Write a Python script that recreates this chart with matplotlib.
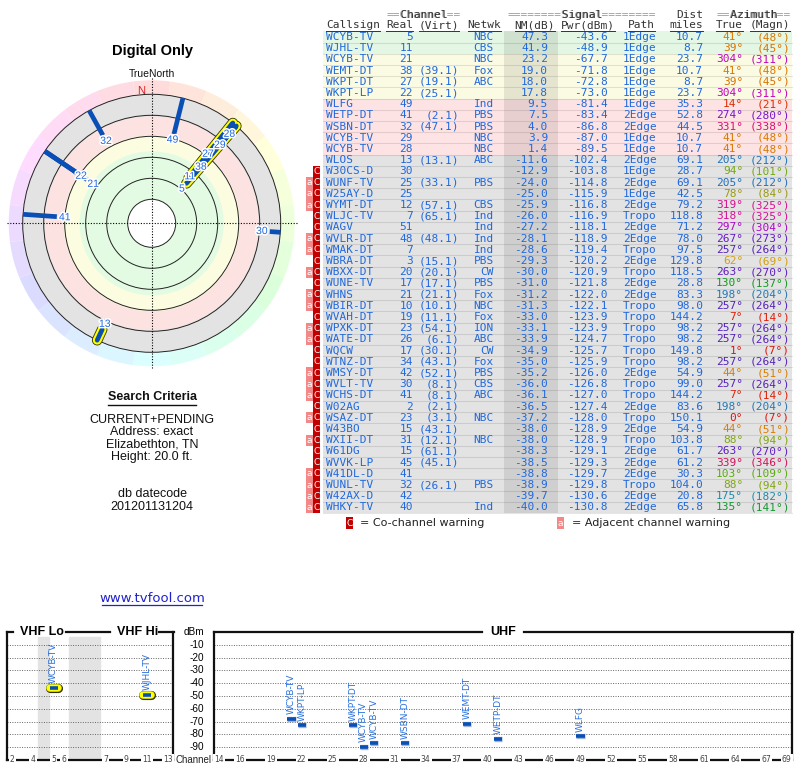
import numpy as np
import matplotlib
matplotlib.use('Agg')
import matplotlib.pyplot as plt
from matplotlib.patches import Rectangle, Wedge, Circle
import matplotlib.patheffects as pe
from matplotlib.colors import to_rgb
import colorsys

# ---------------- data ----------------
callsigns = ['WCYB-TV', 'WJHL-TV', 'WCYB-TV', 'WEMT-DT', 'WKPT-DT', 'WKPT-LP', 'WLFG', 'WETP-DT',
             'WSBN-DT', 'WCYB-TV', 'WCYB-TV', 'WLOS', 'W30CS-D', 'WUNF-TV', 'W25AY-D', 'WYMT-DT',
             'WLJC-TV', 'WAGV', 'WVLR-DT', 'WMAK-DT', 'WBRA-DT', 'WBXX-DT', 'WUNE-TV', 'WHNS',
             'WBIR-DT', 'WVAH-DT', 'WPXK-DT', 'WATE-DT', 'WQCW', 'WTNZ-DT', 'WMSY-DT', 'WVLT-TV',
             'WCHS-DT', 'W02AG', 'WSAZ-DT', 'W43BO', 'WXII-DT', 'W61DG', 'WVVK-LP', 'W41DL-D',
             'WUNL-TV', 'W42AX-D', 'WHKY-TV']
real_ch = [5, 11, 21, 38, 27, 22, 49, 41, 32, 29, 28, 13, 30, 25, 25, 12, 7, 51, 48, 7, 3, 20, 17, 21,
           10, 19, 23, 26, 17, 34, 42, 30, 41, 2, 23, 15, 31, 15, 45, 41, 32, 42, 40]
virt_ch = ['', '', '', '39.1', '19.1', '25.1', '', '2.1', '47.1', '', '', '13.1', '', '33.1', '',
           '57.1', '65.1', '', '48.1', '', '15.1', '20.1', '17.1', '21.1', '10.1', '11.1', '54.1',
           '6.1', '30.1', '43.1', '52.1', '8.1', '8.1', '2.1', '3.1', '43.1', '12.1', '61.1', '45.1',
           '', '26.1', '', '']
network = ['NBC', 'CBS', 'NBC', 'Fox', 'ABC', '', 'Ind', 'PBS', 'PBS', 'NBC', 'NBC', 'ABC', '', 'PBS',
           '', 'CBS', 'Ind', 'Ind', 'Ind', 'Ind', 'PBS', 'CW', 'PBS', 'Fox', 'NBC', 'Fox', 'ION', 'ABC',
           'CW', 'Fox', 'PBS', 'CBS', 'ABC', '', 'NBC', '', 'NBC', '', '', '', 'PBS', '', 'Ind']
nm_db = [47.3, 41.9, 23.2, 19.0, 18.0, 17.8, 9.5, 7.5, 4.0, 3.9, 1.4, -11.6, -12.9, -24.0, -25.0,
         -25.9, -26.0, -27.2, -28.1, -28.6, -29.3, -30.0, -31.0, -31.2, -31.3, -33.0, -33.1, -33.9,
         -34.9, -35.0, -35.2, -36.0, -36.1, -36.5, -37.2, -38.0, -38.0, -38.3, -38.5, -38.8, -38.9,
         -39.7, -40.0]
pwr_dbm = [-43.6, -48.9, -67.7, -71.8, -72.8, -73.0, -81.4, -83.4, -86.8, -87.0, -89.5, -102.4,
           -103.8, -114.8, -115.9, -116.8, -116.9, -118.1, -118.9, -119.4, -120.2, -120.9, -121.8,
           -122.0, -122.1, -123.9, -123.9, -124.7, -125.7, -125.9, -126.0, -126.8, -127.0, -127.4,
           -128.0, -128.9, -128.9, -129.1, -129.3, -129.7, -129.8, -130.6, -130.8]
path = ['1Edge', '1Edge', '1Edge', '1Edge', '1Edge', '1Edge', '1Edge', '2Edge', '2Edge', '1Edge',
        '1Edge', '2Edge', '1Edge', '2Edge', '1Edge', '2Edge', 'Tropo', '2Edge', '2Edge', 'Tropo',
        '2Edge', 'Tropo', '2Edge', '2Edge', 'Tropo', 'Tropo', 'Tropo', 'Tropo', 'Tropo', 'Tropo',
        '2Edge', 'Tropo', 'Tropo', '2Edge', 'Tropo', '2Edge', 'Tropo', '2Edge', '2Edge', '2Edge',
        'Tropo', '2Edge', '2Edge']
dist_mi = [10.7, 8.7, 23.7, 10.7, 8.7, 23.7, 35.3, 52.8, 44.5, 10.7, 10.7, 69.1, 28.7, 69.1, 42.5,
           79.2, 118.8, 71.2, 78.0, 97.5, 129.8, 118.5, 28.8, 83.3, 98.0, 144.2, 98.2, 98.2, 149.8,
           98.2, 54.9, 99.0, 144.2, 83.6, 150.1, 54.9, 103.8, 61.7, 61.2, 30.3, 104.0, 20.8, 65.8]
az_true = [41, 39, 304, 41, 39, 304, 14, 274, 331, 41, 41, 205, 94, 205, 78, 319, 318, 297, 267, 257,
           62, 263, 130, 198, 257, 7, 257, 257, 1, 257, 44, 257, 7, 198, 0, 44, 88, 263, 339, 103,
           88, 175, 135]
az_magn = [48, 45, 311, 48, 45, 311, 21, 280, 338, 48, 48, 212, 101, 212, 84, 325, 325, 304, 273,
           264, 69, 270, 137, 204, 264, 14, 264, 264, 7, 264, 51, 264, 14, 204, 7, 51, 94, 270, 346,
           109, 94, 182, 141]
warnings = ['', '', '', '', '', '', '', '', '', '', '', '', 'C', 'aC', 'aC', 'aC', 'C', 'C', 'aC', 'aC',
            'C', 'aC', 'C', 'aC', 'aC', 'C', 'aC', 'aC', 'C', 'C', 'aC', 'aC', 'aC', 'C', 'aC', 'C',
            'aC', 'C', 'C', 'aC', 'aC', 'aC', 'aC']

criteria_lines = ['CURRENT+PENDING', 'Address: exact', 'Elizabethton, TN', 'Height: 20.0 ft.']
datecode = '201201131204'
dbm_ticks = [-10, -20, -30, -40, -50, -60, -70, -80, -90]
vhf_tick_ch = [2, 4, 5, 6, 7, 9, 11, 13]
uhf_tick_ch = [14, 16, 19, 22, 25, 28, 31, 34, 37, 40, 43, 46, 49, 52, 55, 58, 61, 64, 67, 69]

# ---------------- helpers ----------------
W, H = 800, 768
fig = plt.figure(figsize=(8, 7.68), dpi=100)


def px_axes(x0, y0, x1, y1):
    return fig.add_axes([x0 / W, 1 - y1 / H, (x1 - x0) / W, (y1 - y0) / H])


canvas = px_axes(0, 0, W, H)
canvas.set_xlim(0, W)
canvas.set_ylim(H, 0)
canvas.axis('off')

MONO = 'DejaVu Sans Mono'
SANS = 'Liberation Sans'
BLUE_TXT = '#2068dc'
BAR_BLUE = '#0a4fb5'

az_nodes = [0, 20, 41, 62, 78, 92, 105, 130, 150, 175, 200, 215, 257, 270, 285, 300, 320, 340, 360]
az_cols = ['#dd1111', '#dd3a00', '#da7800', '#d4a010', '#9a9a10', '#78aa10', '#55aa10', '#119a22',
           '#1a9060', '#2288aa', '#2277b5', '#2266c8', '#5522bb', '#6a18cc', '#8a10cc', '#bb00cc',
           '#dd1090', '#d41058', '#dd1111']
az_rgb = np.array([to_rgb(c) for c in az_cols])


def az_color(a):
    return tuple(np.interp(a, az_nodes, az_rgb[:, k]) for k in range(3))


def zone_color(nm):
    if nm >= 30:
        return '#e4f7e4'
    if nm >= 12:
        return '#fbfbe3'
    if nm >= 0:
        return '#fde3e3'
    return '#e3e3e3'


# ---------------- table ----------------
ROW0, RH = 37.0, 11.2
CW = 0.602 * 8 * 100 / 72
TX0, TX1 = 323, 792
n = len(callsigns)
tfs = 8

for i in range(n):
    yc = ROW0 + i * RH
    canvas.add_patch(Rectangle((TX0, yc - RH / 2), TX1 - TX0, RH, fc=zone_color(nm_db[i]), ec='none', zorder=1))
    canvas.plot([TX0, TX1], [yc + RH / 2, yc + RH / 2], color='black', alpha=0.10, lw=0.8, zorder=2)
canvas.add_patch(Rectangle((504, ROW0 - RH / 2), 54, n * RH, fc='black', alpha=0.085, ec='none', zorder=1.5))


def ttext(x, y, s, ha='left', color=BLUE_TXT, **kw):
    canvas.text(x, y, s, ha=ha, va='center', family=MONO, fontsize=tfs, color=color, zorder=5, **kw)


for i in range(n):
    yc = ROW0 + i * RH
    ttext(326, yc, callsigns[i])
    ttext(413, yc, str(real_ch[i]), ha='right')
    if virt_ch[i]:
        ttext(459, yc, '(' + virt_ch[i] + ')', ha='right')
    if network[i]:
        ttext(494, yc, network[i], ha='right')
    ttext(548, yc, f'{nm_db[i]:.1f}', ha='right')
    ttext(608, yc, f'{pwr_dbm[i]:.1f}', ha='right')
    ttext(623, yc, path[i])
    ttext(703, yc, f'{dist_mi[i]:.1f}', ha='right')
    col = az_color(az_true[i])
    ttext(743, yc, f'{az_true[i]}°', ha='right', color=col)
    ttext(790, yc, f'({az_magn[i]}°)', ha='right', color=col)
    if 'C' in warnings[i]:
        canvas.add_patch(Rectangle((313, yc - RH / 2), 7, RH, fc='#c20000', ec='none', zorder=3))
        canvas.text(316.5, yc, 'C', ha='center', va='center', color='white', fontsize=6.5,
                    family='DejaVu Sans', zorder=4)
    if 'a' in warnings[i]:
        canvas.add_patch(Rectangle((306, yc - RH / 2), 7, RH, fc='#f28888', ec='none', zorder=3))
        canvas.text(309.5, yc, 'a', ha='center', va='center', color='white', fontsize=6.5,
                    family='DejaVu Sans', zorder=4)

HCOL = '#333333'
GCOL = '#9a9a9a'
h1, h2 = 14.5, 25.5


def header1(xl, s):
    ttext(xl, h1, s, color=GCOL)
    word = ''.join(c if c != '=' else ' ' for c in s)
    ttext(xl, h1, word, color=HCOL)


header1(387, '==Channel==')
header1(508, '========Signal========')
ttext(703, h1, 'Dist', ha='right', color=HCOL)
header1(717, '==Azimuth==')

hdr2 = [('Callsign', 326, 'left'), ('Real', 413, 'right'), ('(Virt)', 459, 'right'),
        ('Netwk', 484.5, 'center'), ('NM(dB)', 555, 'right'), ('Pwr(dBm)', 615, 'right'),
        ('Path', 655, 'right'), ('miles', 703, 'right'), ('True', 743, 'right'), ('(Magn)', 790, 'right')]
for s, x, ha in hdr2:
    ttext(x, h2, s, ha=ha, color=HCOL)
    w = len(s) * CW
    xl = x if ha == 'left' else (x - w if ha == 'right' else x - w / 2)
    canvas.plot([xl, xl + w], [h2 + 5, h2 + 5], color=HCOL, lw=0.7, zorder=5)

ly = 523
canvas.add_patch(Rectangle((346, ly - 6), 7, 12, fc='#c20000', ec='none'))
canvas.text(349.5, ly, 'C', ha='center', va='center', color='white', fontsize=6.5, family='DejaVu Sans')
canvas.text(360, ly, '= Co-channel warning', ha='left', va='center', fontsize=8, family='DejaVu Sans', color='#222222')
canvas.add_patch(Rectangle((557, ly - 6), 7, 12, fc='#f28888', ec='none'))
canvas.text(560.5, ly, 'a', ha='center', va='center', color='white', fontsize=6.5, family='DejaVu Sans')
canvas.text(572, ly, '= Adjacent channel warning', ha='left', va='center', fontsize=8, family='DejaVu Sans', color='#222222')

# ---------------- left column texts ----------------
LX = 152
canvas.text(LX, 51, 'Digital Only', ha='center', va='center', family=SANS, fontsize=10.5, fontweight='bold', color='black')
canvas.text(LX, 74, 'TrueNorth', ha='center', va='center', family=SANS, fontsize=7.5, color='#111111')
canvas.text(LX, 397.5, 'Search Criteria', ha='center', va='center', family=SANS, fontsize=9, fontweight='bold', color='#111111')
canvas.plot([108, 196], [404.5, 404.5], color='#111111', lw=1)
for k, s in enumerate(criteria_lines):
    canvas.text(LX, 420 + k * 12.4, s, ha='center', va='center', family=SANS, fontsize=9, color='#111111')
canvas.text(LX, 494, 'db datecode', ha='center', va='center', family=SANS, fontsize=9, color='#111111')
canvas.text(LX, 506.5, datecode, ha='center', va='center', family=SANS, fontsize=9, color='#111111')
canvas.text(LX, 598, 'www.tvfool.com', ha='center', va='center', family='DejaVu Sans', fontsize=9.5, color='#2222cc')
canvas.plot([102, 202], [604.5, 604.5], color='#2222cc', lw=0.9)

# ---------------- radar ----------------
cx, cy = 151.7, 223.3
rax = px_axes(cx - 150, cy - 150, cx + 150, cy + 150)
rax.set_xlim(-150, 150)
rax.set_ylim(-150, 150)
rax.axis('off')
rax.patch.set_alpha(0)

R_OUT, R_RING = 129, 143
nm_nodes = [-25, 0, 12, 30, 50, 65]
r_nodes = [129, 107, 88, 72, 50, 24]


def nm_to_r(v):
    return float(np.interp(v, nm_nodes, r_nodes))


for k in range(24):
    a = k * 15
    rgb = colorsys.hsv_to_rgb(a / 360.0, 0.14, 1.0)
    rax.add_patch(Wedge((0, 0), R_RING, 90 - a - 7.5, 90 - a + 7.5, width=R_RING - R_OUT, fc=rgb, ec='none', zorder=1))

rax.add_patch(Circle((0, 0), R_OUT, fc='#e3e3e3', ec='none', zorder=1))
rax.add_patch(Circle((0, 0), nm_to_r(0), fc='#fde2e2', ec='none', zorder=1))
rax.add_patch(Circle((0, 0), nm_to_r(12), fc='#fcfce0', ec='none', zorder=1))
rax.add_patch(Circle((0, 0), nm_to_r(30), fc='#e2fbe2', ec='none', zorder=1))
rax.add_patch(Circle((0, 0), 24, fc='white', ec='none', zorder=1))
for r in [24, 45, 66, 87, 108, 129]:
    rax.add_patch(Circle((0, 0), r, fill=False, ec='#222222', lw=0.7, zorder=2))
rax.plot([-145, 145], [0, 0], ls=(0, (1, 1.5)), color='black', lw=0.8, zorder=2)
rax.plot([0, 0], [-145, 145], ls=(0, (1, 1.5)), color='black', lw=0.8, zorder=2)
rax.text(-10.4, 132.5, 'N', color='#dd2222', ha='center', va='center', family=SANS, fontsize=8, zorder=3)

sel = [i for i in range(n) if nm_db[i] > -20]
for i in sel:
    a = np.radians(az_true[i])
    ri = nm_to_r(nm_db[i])
    xs = [ri * np.sin(a), R_OUT * np.sin(a)]
    ys = [ri * np.cos(a), R_OUT * np.cos(a)]
    if real_ch[i] <= 13:
        rax.plot(xs, ys, color='#333300', lw=7.6, solid_capstyle='round', zorder=3)
        rax.plot(xs, ys, color='#ffff00', lw=6.4, solid_capstyle='round', zorder=3.1)
for i in sel:
    a = np.radians(az_true[i])
    ri = nm_to_r(nm_db[i])
    xs = [ri * np.sin(a), R_OUT * np.sin(a)]
    ys = [ri * np.cos(a), R_OUT * np.cos(a)]
    cap = 'round' if real_ch[i] <= 13 else 'butt'
    rax.plot(xs, ys, color=BAR_BLUE, lw=3.4, solid_capstyle=cap, zorder=4)

# label radii, pushed outward to avoid collisions along similar azimuths
lab_r = {}
for i in sorted(sel, key=lambda j: nm_to_r(nm_db[j])):
    a = np.radians(az_true[i])
    rl = nm_to_r(nm_db[i]) - (5 + 3 * abs(np.sin(a)))
    for j, rj in lab_r.items():
        d = abs((az_true[i] - az_true[j] + 180) % 360 - 180)
        if d <= 6 and rl < rj + 14.5:
            rl = rj + 14.5
    lab_r[i] = rl
for i in sel:
    a = np.radians(az_true[i])
    rl = lab_r[i]
    rax.text(rl * np.sin(a), rl * np.cos(a), str(real_ch[i]), color=BLUE_TXT, ha='center', va='center',
             family=SANS, fontsize=7.5, zorder=5,
             path_effects=[pe.withStroke(linewidth=2.2, foreground='white')])

# ---------------- spectrum ----------------


def vslot(ch):
    if ch <= 4:
        return ch - 2
    if ch <= 6:
        return ch - 1
    return ch + 2


YT, YB = 632, 760
vax = px_axes(7, YT, 173, YB)
uax = px_axes(214, YT, 792, YB)
vax.set_xlim(-0.5, 15.5)
uax.set_xlim(13.5, 69.5)
for ax in (vax, uax):
    ax.set_ylim(-100, 0)
    ax.set_yticks(dbm_ticks)
    ax.set_xticks([])
    ax.tick_params(left=False, labelleft=False, bottom=False, labelbottom=False)
    ax.yaxis.grid(True, ls=(0, (1, 1.5)), color='#666666', lw=0.7)
    ax.spines['top'].set_visible(False)
    for s in ('left', 'right', 'bottom'):
        ax.spines[s].set_linewidth(1.6)
        ax.spines[s].set_color('#111111')
    ax.patch.set_alpha(0)

vax.axvspan(2.5, 3.5, ymax=0.96, color='#e3e3e3', zorder=1)
vax.axvspan(5.5, 8.5, ymax=0.96, color='#e3e3e3', zorder=1)

for ch in vhf_tick_ch:
    vax.text(vslot(ch), -100, str(ch), ha='center', va='center', fontsize=5.5, color='#444444',
             family='DejaVu Sans', clip_on=False, zorder=5,
             bbox=dict(boxstyle='square,pad=0.15', fc='white', ec='none'))
for ch in uhf_tick_ch:
    uax.text(ch, -100, str(ch), ha='center', va='center', fontsize=5.5, color='#444444',
             family='DejaVu Sans', clip_on=False, zorder=5,
             bbox=dict(boxstyle='square,pad=0.15', fc='white', ec='none'))

canvas.plot([7, 13], [YT, YT], color='#111111', lw=1.6)
canvas.plot([66, 110], [YT, YT], color='#111111', lw=1.6)
canvas.plot([159, 173.5], [YT, YT], color='#111111', lw=1.6)
canvas.plot([213.5, 482], [YT, YT], color='#111111', lw=1.6)
canvas.plot([524, 792.5], [YT, YT], color='#111111', lw=1.6)
canvas.text(42, YT, 'VHF Lo', ha='center', va='center', family=SANS, fontsize=9, fontweight='bold')
canvas.text(138, YT, 'VHF Hi', ha='center', va='center', family=SANS, fontsize=9, fontweight='bold')
canvas.text(503, YT, 'UHF', ha='center', va='center', family=SANS, fontsize=9, fontweight='bold')

xlab = 13.5 - (214 - 204) / (578 / 56.0)
for v in dbm_ticks:
    uax.text(xlab, v, str(v), ha='right', va='center', family=SANS, fontsize=7.2, clip_on=False)
uax.text(xlab, 0, 'dBm', ha='right', va='center', family=SANS, fontsize=7.2, clip_on=False)
uax.text(13.5 - 20.5 / (578 / 56.0), -100, 'Channel', ha='center', va='center', family=SANS,
         fontsize=7, color='#222222', clip_on=False, zorder=5)

spec = [i for i in range(n) if nm_db[i] > 0]
for i in spec:
    ch = real_ch[i]
    ax, x = (vax, vslot(ch)) if ch <= 13 else (uax, ch)
    xs = [x - 0.4, x + 0.4]
    ys = [pwr_dbm[i], pwr_dbm[i]]
    if ch <= 13:
        ax.plot(xs, ys, color='#333300', lw=6.6, solid_capstyle='round', zorder=3, clip_on=False)
        ax.plot(xs, ys, color='#ffff00', lw=5.4, solid_capstyle='round', zorder=3.1, clip_on=False)
    else:
        ax.plot(xs, ys, color='#9ab4d8', lw=3.8, solid_capstyle='butt', zorder=3)
    ax.plot(xs, ys, color=BAR_BLUE, lw=2.6, solid_capstyle='butt', zorder=4)
    ax.annotate(callsigns[i], (x, pwr_dbm[i]), xytext=(0, 3.2), textcoords='offset points',
                rotation=90, ha='center', va='bottom', fontsize=6.5, color='#2a70dd',
                family='DejaVu Sans', zorder=5)

fig.savefig('out.png', dpi=100)
